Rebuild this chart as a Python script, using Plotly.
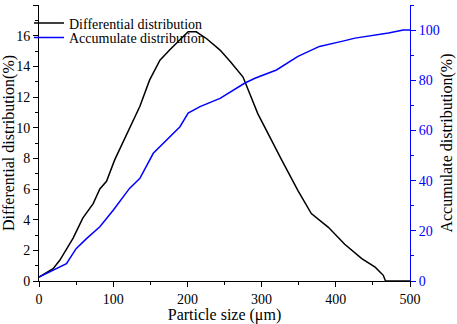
import plotly.graph_objects as go

diff_x = [0, 19, 28, 37, 46, 59, 73, 82, 91, 102, 118, 136, 149, 163, 176, 190, 201, 212, 226, 244, 258, 275, 295, 327, 349, 367, 390, 412, 435, 453, 464, 467, 500]
diff_y = [0.25, 0.8, 1.35, 2.1, 2.8, 4.1, 5.05, 6.0, 6.5, 7.9, 9.6, 11.4, 13.1, 14.4, 15.06, 15.7, 16.25, 16.25, 15.8, 15.06, 14.3, 13.3, 10.9, 7.9, 5.9, 4.4, 3.5, 2.4, 1.46, 0.9, 0.37, 0.0, 0.0]

acc_x = [0, 23, 37, 50, 64, 82, 100, 122, 136, 154, 172, 190, 201, 217, 244, 256, 277, 291, 320, 349, 378, 408, 426, 471, 491, 500]
acc_y = [1.6, 4.95, 6.9, 12.9, 16.9, 21.6, 28.2, 36.9, 40.9, 50.9, 56.2, 61.5, 66.9, 69.5, 72.8, 75.0, 78.8, 80.8, 84.1, 89.5, 93.5, 95.5, 96.8, 98.8, 100, 100]

x_ticks = [0, 100, 200, 300, 400, 500]
y2_ticks = [0, 20, 40, 60, 80, 100]

FONT = "Liberation Serif"
BLUE = "#0000ff"

fig = go.Figure()
fig.add_trace(go.Scatter(x=diff_x, y=diff_y, mode="lines", name="Differential distribution",
                         line=dict(color="black", width=1.5), legend="legend"))
fig.add_trace(go.Scatter(x=acc_x, y=acc_y, mode="lines", name="Accumulate distribution",
                         line=dict(color=BLUE, width=1.5), yaxis="y2", legend="legend2"))

leg_common = dict(xanchor="left", yanchor="top", bgcolor="rgba(0,0,0,0)",
                  font=dict(family=FONT, size=14, color="black"), itemwidth=30)

fig.update_layout(
    width=457, height=324,
    margin=dict(l=39, r=47, t=5, b=43),
    paper_bgcolor="white", plot_bgcolor="white",
    font=dict(family=FONT, color="black", size=14),
    showlegend=True,
    hovermode=False,
    legend=dict(x=-0.027, y=0.991, **leg_common),
    legend2=dict(x=-0.027, y=0.939, **leg_common),
    xaxis=dict(range=[0, 500], tickvals=x_ticks, showgrid=False, zeroline=False,
               showline=True, linecolor="black", linewidth=1,
               ticks="outside", ticklen=5, tickcolor="black", automargin=False,
               minor=dict(ticks="outside", ticklen=3, dtick=50, tickcolor="black"),
               title=dict(text="Particle size (μm)", font=dict(family=FONT, size=16, color="black"), standoff=2),
               tickfont=dict(family=FONT, size=14, color="black")),
    xaxis2=dict(range=[0, 500], tickvals=x_ticks, overlaying="x", side="top", anchor="y",
                matches="x", showgrid=False, zeroline=False, showticklabels=False,
                showline=True, linecolor="black", linewidth=1,
                ticks="inside", ticklen=5, tickcolor="black", automargin=False,
                minor=dict(ticks="inside", ticklen=3, dtick=50, tickcolor="black")),
    yaxis=dict(range=[0, 18], dtick=2, showgrid=False, zeroline=False,
               showline=True, linecolor="black", linewidth=1, automargin=False,
               ticks="outside", ticklen=5, tickcolor="black",
               minor=dict(ticks="outside", ticklen=3, dtick=1, tickcolor="black"),
               title=dict(text="Differential distribution(%)", font=dict(family=FONT, size=16, color="black"), standoff=2),
               tickfont=dict(family=FONT, size=14, color="black")),
    yaxis2=dict(range=[0, 110], tickvals=y2_ticks, overlaying="y", side="right",
                showgrid=False, zeroline=False, automargin=False,
                showline=True, linecolor=BLUE, linewidth=1,
                ticks="outside", ticklen=5, tickcolor=BLUE,
                minor=dict(ticks="outside", ticklen=3, dtick=10, tickcolor=BLUE),
                title=dict(text="Accumulate distribution(%)", font=dict(family=FONT, size=16, color="black"), standoff=2),
                tickfont=dict(family=FONT, size=14, color=BLUE)),
)

fig.write_html("out.html", config={"displayModeBar": False, "staticPlot": True},
               post_script="document.body.style.margin='0';document.body.style.overflow='hidden';")
